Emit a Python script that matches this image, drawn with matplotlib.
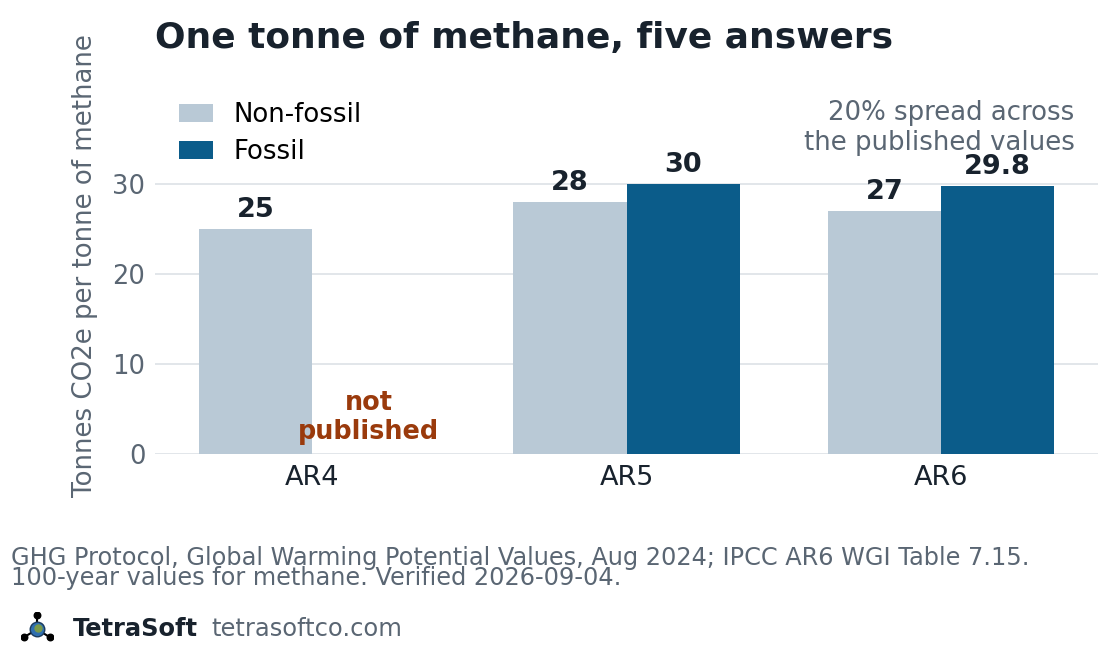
import matplotlib.pyplot as plt
import numpy as np

reports = ["AR4", "AR5", "AR6"]
non_fossil = [25, 28, 27]
fossil = [None, 30, 29.8]
non_fossil_labels = ["25", "28", "27"]
fossil_labels = [None, "30", "29.8"]
yticks = [0, 10, 20, 30]

DARK = "#18222d"
GREY = "#5a6673"
LIGHT = "#b9c9d6"
BLUE = "#0b5c8a"
GRID = "#dde1e6"
RUST = "#9a3a0c"

plt.rcParams["font.family"] = ["DejaVu Sans"]

fig = plt.figure(figsize=(11.2, 6.62), dpi=100)
ax = fig.add_axes([0.1384, 0.3142, 0.842, 0.568])

x = np.arange(len(reports))
w = 0.36
ax.bar(x - w / 2, non_fossil, w, color=LIGHT, label="Non-fossil", zorder=2)
fx = [xi + w / 2 for xi, v in zip(x, fossil) if v is not None]
fv = [v for v in fossil if v is not None]
ax.bar(fx, fv, w, color=BLUE, label="Fossil", zorder=2)

for xi, v, lab in zip(x, non_fossil, non_fossil_labels):
    ax.annotate(lab, xy=(xi - w / 2, v), xytext=(0, 4.5), textcoords="offset points",
                ha="center", va="bottom", fontsize=19.5, fontweight="bold", color=DARK,
                annotation_clip=False, zorder=5)
for xi, v, lab in zip(x, fossil, fossil_labels):
    if v is None:
        ax.text(xi + w / 2, 1.0, "not\npublished", ha="center", va="bottom",
                fontsize=18.4, fontweight="bold", color=RUST, linespacing=1.15)
        continue
    ax.annotate(lab, xy=(xi + w / 2, v), xytext=(0, 4.5), textcoords="offset points",
                ha="center", va="bottom", fontsize=19.5, fontweight="bold", color=DARK,
                annotation_clip=False, zorder=5)

ax.set_xlim(-0.5, 2.5)
ax.set_ylim(0, 41.8)
ax.set_yticks(yticks)
ax.set_xticks(x)
ax.set_xticklabels(reports)
ax.tick_params(axis="x", length=0, labelsize=19.5, labelcolor=DARK, pad=8)
ax.tick_params(axis="y", length=0, labelsize=18.5, labelcolor=GREY, pad=7)
ax.grid(axis="y", color=GRID, linewidth=1.2, zorder=0)
for s in ax.spines.values():
    s.set_visible(False)
ax.set_ylabel("Tonnes CO2e per tonne of methane", fontsize=18.7, color=GREY, labelpad=10)

ax.text(0.975, 39.3, "20% spread across\nthe published values", transform=ax.get_yaxis_transform(),
        ha="right", va="top", fontsize=18.7, color=GREY)

leg = ax.legend(loc="upper left", bbox_to_anchor=(0.006, 0.985), frameon=False, fontsize=18.7,
                handlelength=1.3, handleheight=0.7, borderaxespad=0.3, labelspacing=0.45)
for t in leg.get_texts():
    t.set_color("black")

fig.text(0.138, 0.942, "One tonne of methane, five answers", ha="left", va="center",
         fontsize=25.9, fontweight="bold", color=DARK)

fig.text(0.0098, 0.142, "GHG Protocol, Global Warming Potential Values, Aug 2024; IPCC AR6 WGI Table 7.15.\n"
         "100-year values for methane. Verified 2026-09-04.", ha="left", va="center",
         fontsize=17.3, color=GREY, linespacing=0.83)

fig.text(0.065, 0.050, "TetraSoft", ha="left", va="center", fontsize=17.4, fontweight="bold", color=DARK)
fig.text(0.189, 0.050, "tetrasoftco.com", ha="left", va="center", fontsize=17.4, color=GREY)

# small molecule logo
lax = fig.add_axes([0.018, 0.028, 0.03, 0.047])
lax.set_xlim(-1.1, 1.1)
lax.set_ylim(-1.0, 1.2)
lax.set_aspect("equal")
lax.axis("off")
pts = [(0, 1.0), (-0.9, -0.55), (0.9, -0.55)]
for px, py in pts:
    lax.plot([0, px], [0, py], color="black", linewidth=1.5, zorder=1)
    lax.scatter([px], [py], s=22, color="black", zorder=3)
lax.scatter([0], [0], s=110, color="#2f6fb0", edgecolor="#1a3a5c", zorder=2)
lax.scatter([0.1], [0.1], s=25, color="#7a9a4a", zorder=3)

fig.savefig("out.png", dpi=100)
